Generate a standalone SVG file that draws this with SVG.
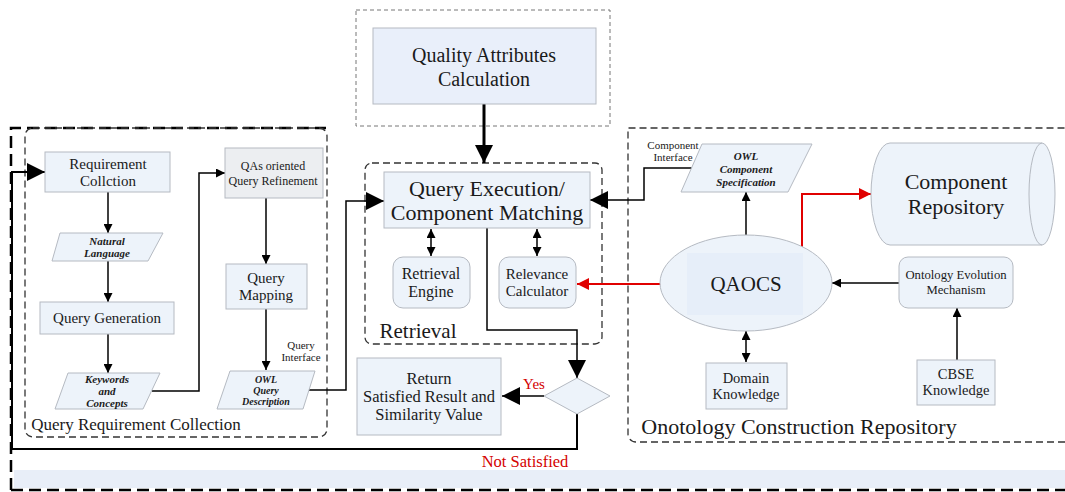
<svg xmlns="http://www.w3.org/2000/svg" width="1065" height="492" viewBox="0 0 1065 492">
<style>
text{font-family:"Liberation Serif","Times New Roman",serif;fill:#1a1a1a;text-anchor:middle}
.n{fill:#edf3fa;stroke:#b5bac2;stroke-width:1}
.g{fill:#eceef1;stroke:#b5bac2;stroke-width:1}
.c{fill:none;stroke:#000;stroke-width:1.5}
.r{fill:none;stroke:#e00000;stroke-width:2}
.bi{font-weight:bold;font-style:italic}
.grp{fill:none;stroke:#333;stroke-width:1.3;stroke-dasharray:7,4}
.thin{fill:none;stroke:#777;stroke-width:1;stroke-dasharray:4,3}
.outer{fill:none;stroke:#000;stroke-width:2.5;stroke-dasharray:12,6}
</style>
<defs>
<marker id="s" viewBox="0 0 10 10" refX="10" refY="5" markerWidth="9" markerHeight="9" markerUnits="userSpaceOnUse" orient="auto-start-reverse"><path d="M0,0L10,5L0,10z" fill="#000"/></marker>
<marker id="L" viewBox="0 0 10 10" refX="10" refY="5" markerWidth="18" markerHeight="18" markerUnits="userSpaceOnUse" orient="auto-start-reverse"><path d="M0,0L10,5L0,10z" fill="#000"/></marker>
<marker id="R" viewBox="0 0 10 10" refX="10" refY="5" markerWidth="12" markerHeight="12" markerUnits="userSpaceOnUse" orient="auto"><path d="M0,0L10,5L0,10z" fill="#e00000"/></marker>
</defs>
<rect width="1065" height="492" fill="#fff"/>
<!-- background band and outer frame -->
<rect x="14" y="470" width="1051" height="18" fill="#e8eef8"/>
<g id="frames">
<path class="outer" d="M11,490V128H326"/>
<path class="outer" d="M11,490H1065"/>
<rect class="grp" x="25" y="128" width="302" height="309" rx="8"/>
<text x="136" y="430" font-size="17">Query Requirement Collection</text>
<rect class="thin" x="356" y="10" width="254" height="116"/>
<rect class="grp" x="365" y="163" width="237" height="181" rx="7"/>
<text x="418" y="338" font-size="21">Retrieval</text>
<path class="grp" d="M1065,442H636a8,8 0 0 1 -8,-8V128H1065"/>
<text x="799" y="434" font-size="22">Onotology Construction Repository</text>
</g>
<!-- connectors -->
<g id="connectors">
<path class="c" d="M108,192V233" marker-end="url(#s)"/>
<path class="c" d="M108,261V302" marker-end="url(#s)"/>
<path class="c" d="M108,334V373" marker-end="url(#s)"/>
<path class="c" d="M152,391H199V173H225" marker-end="url(#s)"/>
<path class="c" d="M266,198V264" marker-end="url(#s)"/>
<path class="c" d="M266,309V370" marker-end="url(#s)"/>
<path class="c" d="M309,390H346V201H384" marker-end="url(#L)"/>
<path fill="none" stroke="#000" stroke-width="3" d="M484,104V163" marker-end="url(#L)"/>
<path class="c" d="M431,229V256" marker-start="url(#s)" marker-end="url(#s)"/>
<path class="c" d="M537,229V256" marker-start="url(#s)" marker-end="url(#s)"/>
<path class="c" d="M487,228V330H577V378" marker-end="url(#L)"/>
<path class="c" d="M544,396H502" marker-end="url(#L)"/>
<path fill="none" stroke="#000" stroke-width="2" d="M577,414V449H12V172H45" marker-end="url(#L)"/>
<path class="c" d="M693,168H644V200H590" marker-end="url(#L)"/>
<path class="c" d="M746,235V192" marker-end="url(#s)"/>
<path class="r" d="M802,247V194H871" marker-end="url(#R)"/>
<path class="r" d="M661,284H577" marker-end="url(#R)"/>
<path class="c" d="M899,283H832" marker-end="url(#s)"/>
<path class="c" d="M957,360V308" marker-end="url(#s)"/>
<path class="c" d="M746,331V362" marker-start="url(#s)" marker-end="url(#s)"/>
<text x="534" y="389" font-size="15" style="fill:#d40000">Yes</text>
<text x="525" y="467" font-size="16.5" style="fill:#d40000">Not Satisfied</text>
<text x="301" y="349" font-size="11">Query</text>
<text x="301" y="361" font-size="11">Interface</text>
<text x="673" y="149" font-size="11">Component</text>
<text x="673" y="161" font-size="11">Interface</text>
</g>
<!-- nodes -->
<g id="requirement-collection"><rect class="n" x="45" y="152" width="125" height="40"/><text x="108" y="169" font-size="15">Requirement</text><text x="108" y="186" font-size="15">Collction</text></g>
<g id="natural-language"><polygon class="n" points="60,233 163,233 148,261 52,261"/><text x="107" y="245" font-size="11" class="bi">Natural</text><text x="107" y="257" font-size="11" class="bi">Language</text></g>
<g id="query-generation"><rect class="n" x="40" y="302" width="134" height="32"/><text x="107" y="323" font-size="15">Query Generation</text></g>
<g id="keywords"><polygon class="n" points="68,373 160,373 143,409 55,409"/><text x="107" y="383" font-size="11" class="bi">Keywords</text><text x="107" y="395" font-size="11" class="bi">and</text><text x="107" y="407" font-size="11" class="bi">Concepts</text></g>
<g id="qas-refinement"><rect class="g" x="225" y="148" width="98" height="50"/><text x="273" y="170" font-size="12">QAs oriented</text><text x="273" y="185" font-size="12">Query Refinement</text></g>
<g id="query-mapping"><rect class="n" x="226" y="264" width="81" height="45"/><text x="266" y="283" font-size="15">Query</text><text x="266" y="300" font-size="15">Mapping</text></g>
<g id="owl-query"><polygon class="n" points="230,371 315,371 303,409 217,409"/><text x="266" y="383" font-size="10" class="bi">OWL</text><text x="266" y="394" font-size="10" class="bi">Query</text><text x="266" y="405" font-size="10" class="bi">Description</text></g>
<g id="qa-calculation"><rect class="n" x="373" y="28" width="223" height="76" style="fill:#e9effa"/><text x="484" y="62" font-size="20">Quality Attributes</text><text x="484" y="86" font-size="20">Calculation</text></g>
<g id="query-execution"><rect class="n" x="384" y="172" width="206" height="56"/><text x="487" y="196" font-size="22">Query Execution/</text><text x="487" y="220" font-size="22">Component Matching</text></g>
<g id="retrieval-engine"><rect class="n" x="393" y="257" width="77" height="51" rx="10"/><text x="431" y="279" font-size="16">Retrieval</text><text x="431" y="297" font-size="16">Engine</text></g>
<g id="relevance-calculator"><rect class="n" x="499" y="257" width="77" height="51" rx="10"/><text x="537" y="279" font-size="15">Relevance</text><text x="537" y="296" font-size="15">Calculator</text></g>
<g id="decision"><polygon class="n" points="577,378 610,396 577,414 544,396"/></g>
<g id="return"><rect class="n" x="357" y="358" width="144" height="77"/><text x="429" y="384" font-size="16.5">Return</text><text x="429" y="402" font-size="16.5">Satisfied Result and</text><text x="429" y="420" font-size="16.5">Similarity Value</text></g>
<g id="owl-component"><polygon class="n" points="702,144 812,144 788,192 681,192"/><text x="746" y="160" font-size="11" class="bi">OWL</text><text x="746" y="173" font-size="11" class="bi">Component</text><text x="746" y="186" font-size="11" class="bi">Specification</text></g>
<g id="component-repository"><path class="n" d="M890,143H1042A13,51 0 0 1 1042,245H890A19,51 0 0 1 890,143Z"/><path fill="none" stroke="#b5bac2" d="M1042,143A13,51 0 0 0 1042,245"/><text x="956" y="189" font-size="22">Component</text><text x="956" y="214" font-size="22">Repository</text></g>
<g id="qaocs"><ellipse class="n" cx="746" cy="283" rx="86" ry="48"/><rect x="687" y="253" width="116" height="62" fill="#e6eef9"/><text x="746" y="291" font-size="21">QAOCS</text></g>
<g id="ontology-evolution"><rect class="n" x="899" y="257" width="114" height="51" rx="9"/><text x="956" y="279" font-size="12.7">Ontology Evolution</text><text x="956" y="294" font-size="12.7">Mechanism</text></g>
<g id="domain-knowledge"><rect class="n" x="706" y="363" width="81" height="46"/><text x="746" y="383" font-size="14.5">Domain</text><text x="746" y="399" font-size="14.5">Knowledge</text></g>
<g id="cbse-knowledge"><rect class="n" x="917" y="360" width="78" height="45"/><text x="956" y="379" font-size="14.5">CBSE</text><text x="956" y="395" font-size="14.5">Knowledge</text></g>
</svg>
